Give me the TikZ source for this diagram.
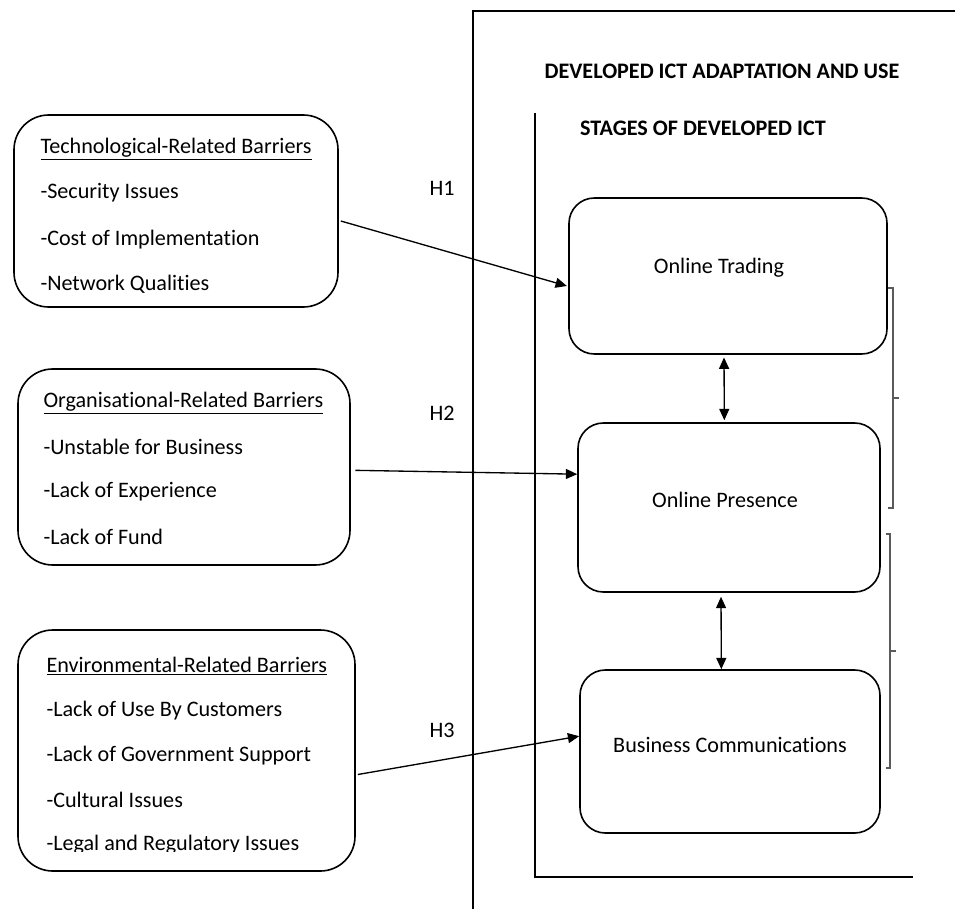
\documentclass[tikz,border=0pt]{standalone}
\usepackage{fontspec}
\setmainfont{Carlito}[Ligatures=CommonOff]
\usetikzlibrary{arrows.meta}
\tikzset{every picture/.style={line width=0.75pt}}
\tikzset{
  barrier/.style={draw, line width=1.2pt, rounded corners=26pt, inner sep=0pt},
  stagebox/.style={draw, line width=1.2pt, rounded corners=19pt, inner sep=0pt},
  txt/.style={anchor=west, inner sep=0pt, font=\fontsize{16.6}{20}\selectfont},
  ctxt/.style={inner sep=0pt, font=\fontsize{16.6}{20}\selectfont},
  hyp/.style={-{Triangle[length=8.5pt,width=7.5pt]}, line width=1pt},
  both/.style={{Triangle[length=8.5pt,width=7.5pt]}-{Triangle[length=8.5pt,width=7.5pt]}, line width=1pt}
}

\begin{document}
\begin{tikzpicture}[x=0.75pt,y=0.75pt,yscale=-1,xscale=1]
\useasboundingbox (0,0) rectangle (955,909);

%Straight Lines: outer frame
\draw [line width=0.8pt]  (473,909) -- (473,11) -- (955,11) ;
%Straight Lines: inner frame
\draw [line width=0.8pt]  (535,113) -- (535,877) -- (913,877) ;

%Shape: Rounded Rect [id:tech]
\node (tech) at (176,211) [barrier, minimum width=243pt, minimum height=144pt] {};
%Shape: Rounded Rect [id:org]
\node (org) at (184,467) [barrier, minimum width=249pt, minimum height=147pt] {};
%Shape: Rounded Rect [id:env]
\node (env) at (186.5,750.5) [barrier, minimum width=252.75pt, minimum height=180.75pt] {};

%Shape: Rounded Rect [id:trade]
\node (trade) at (728,276) [stagebox, minimum width=238.5pt, minimum height=117pt] {};
%Shape: Rounded Rect [id:pres]
\node (pres) at (729,507.5) [stagebox, minimum width=226.5pt, minimum height=126.75pt] {};
%Shape: Rounded Rect [id:comm]
\node (comm) at (730,751.5) [stagebox, minimum width=225pt, minimum height=122.25pt] {};

% Text Node
\node (devt) at (722,71) [ctxt] {\bfseries DEVELOPED ICT ADAPTATION AND USE};
% Text Node
\node (stgt) at (703,128) [ctxt] {\bfseries STAGES OF DEVELOPED ICT};

% Text Node
\node (techt) at (40,149) [txt] {\underline{Technological-Related Barriers}};
\node (tech1) at (40,193) [txt] {-Security Issues};
\node (tech2) at (40,240) [txt] {-Cost of Implementation};
\node (tech3) at (40,284) [txt] {-Network Qualities};
% Text Node
\node (orgt) at (43,403) [txt] {\underline{Organisational-Related Barriers}};
\node (org1) at (43,447) [txt] {-Unstable for Business};
\node (org2) at (43,492) [txt] {-Lack of Experience};
\node (org3) at (43,537) [txt] {-Lack of Fund};
% Text Node
\node (envt) at (46,666) [txt] {\underline{Environmental-Related Barriers}};
\node (env1) at (46,711) [txt] {-Lack of Use By Customers};
\node (env2) at (46,756) [txt] {-Lack of Government Support};
\node (env3) at (46,800) [txt] {-Cultural Issues};
\begin{scope}
\clip (20,820) rectangle (352,851);
\node (env4) at (46,845) [txt] {-Legal and Regulatory Issues};
\end{scope}

% Text Node
\node (tradet) at (719,268) [ctxt] {Online Trading};
\node (prest) at (725,500) [ctxt] {Online Presence};
\node (commt) at (730,745) [ctxt] {Business Communications};

% Text Node
\node (h1) at (442,188) [ctxt] {H1};
\node (h2) at (442,413) [ctxt] {H2};
\node (h3) at (442,730) [ctxt] {H3};

%Straight Lines [id:H1]
\draw [hyp]  ([xshift=1.5pt,yshift=7.5pt]tech.east) -- ([xshift=-1pt,yshift=7.5pt]trade.west) ;
%Straight Lines [id:H2]
\draw [hyp]  ([xshift=3.5pt,yshift=2.5pt]org.east) -- ([yshift=-25pt]pres.west) ;
%Straight Lines [id:H3]
\draw [hyp]  ([xshift=1.5pt,yshift=18pt]env.east) -- ([yshift=-11.5pt]comm.west) ;

%Straight Lines [id:updown]
\draw [both]  ([xshift=-3pt,yshift=2pt]trade.south) -- ([xshift=-3.5pt,yshift=-1.5pt]pres.north) ;
\draw [both]  ([xshift=-6pt,yshift=3pt]pres.south) -- ([xshift=-6.5pt]comm.north) ;

%Straight Lines: brackets
\draw [color={rgb, 255:red, 90; green, 90; blue, 90 }, line width=0.8pt]  (888,288) -- (893,288) -- (893,508) -- (888,508) (893,398) -- (899,398) ;
\draw [color={rgb, 255:red, 90; green, 90; blue, 90 }, line width=0.8pt]  (886,534) -- (890,534) -- (890,768) -- (886,768) (890,651) -- (896,651) ;

\end{tikzpicture}
\end{document}
